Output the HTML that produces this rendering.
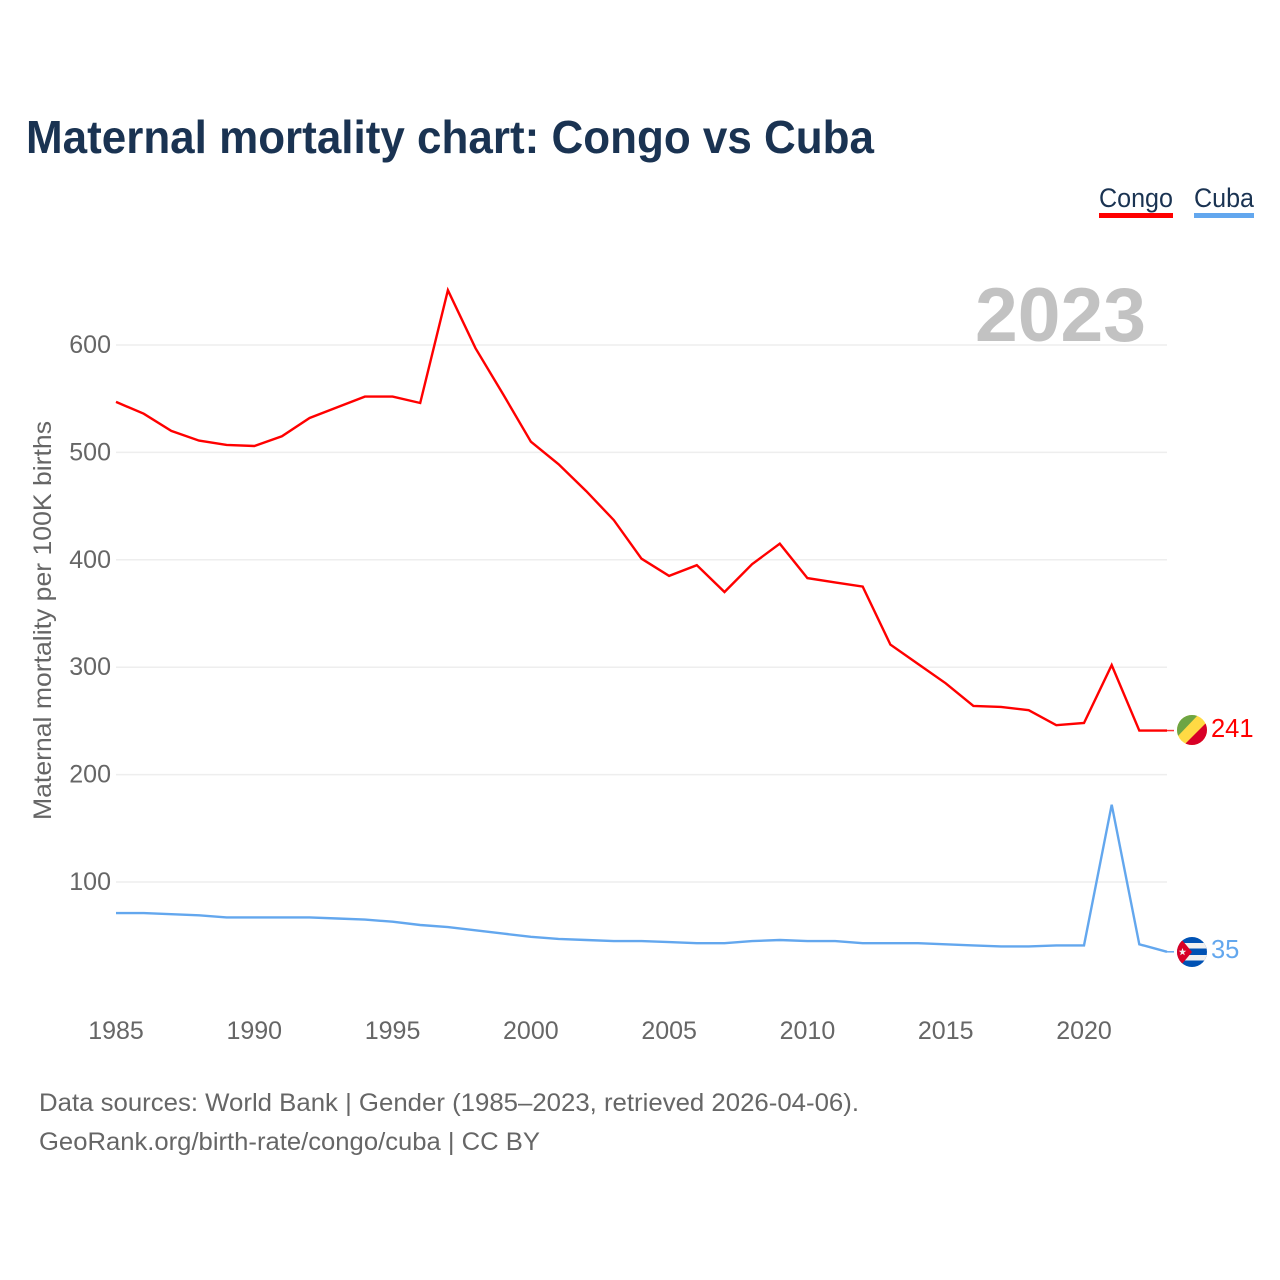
<!DOCTYPE html>
<html lang="en">
<head>
<meta charset="utf-8">
<title>Maternal mortality chart: Congo vs Cuba</title>
<style>
html,body{margin:0;padding:0;background:#fff;}
svg{display:block;}
text{font-family:"Liberation Sans",sans-serif;}
.tick{font-size:25px;fill:#666;}
</style>
</head>
<body>
<svg id="chart" xmlns="http://www.w3.org/2000/svg" width="1280" height="1280" viewBox="0 0 1280 1280">
  <defs>
    <clipPath id="flag-clip-congo"><circle cx="1192" cy="730" r="15"/></clipPath>
    <clipPath id="flag-clip-cuba"><circle cx="1192" cy="952" r="15"/></clipPath>
  </defs>
  <rect x="0" y="0" width="1280" height="1280" fill="#fff"/>
  <text x="26" y="153" font-size="46" font-weight="700" fill="#1a3352" textLength="848" lengthAdjust="spacingAndGlyphs">Maternal mortality chart: Congo vs Cuba</text>

  <g>
    <text x="1099" y="207" font-size="27" fill="#1a3352" textLength="74" lengthAdjust="spacingAndGlyphs">Congo</text>
    <rect x="1099" y="213" width="74" height="5" fill="#ff0000"/>
    <text x="1194" y="207" font-size="27" fill="#1a3352" textLength="60" lengthAdjust="spacingAndGlyphs">Cuba</text>
    <rect x="1194" y="213" width="60" height="5" fill="#63a7ee"/>
  </g>

  <g id="grid"></g>
  <g id="y-ticks"></g>
  <g id="x-ticks"></g>

  <text x="975" y="341" font-size="76" font-weight="700" fill="#c2c2c2" textLength="171" lengthAdjust="spacingAndGlyphs">2023</text>

  <text transform="translate(51,820) rotate(-90)" font-size="25" fill="#666" textLength="399" lengthAdjust="spacingAndGlyphs">Maternal mortality per 100K births</text>

  <polyline id="line-congo" fill="none" stroke="#ff0000" stroke-width="2.4" stroke-linejoin="miter"/>
  <polyline id="line-cuba" fill="none" stroke="#63a7ee" stroke-width="2.4" stroke-linejoin="miter"/>
  <line id="connector-congo" stroke="#ff0000" stroke-width="1.5" opacity="0.8"/>
  <line id="connector-cuba" stroke="#63a7ee" stroke-width="1.5"/>

  <g clip-path="url(#flag-clip-congo)">
    <rect x="1177" y="715" width="30" height="30" fill="#ffda44"/>
    <polygon points="1177,715 1198,715 1177,737" fill="#6da544"/>
    <polygon points="1207,745 1207,722 1184,745" fill="#d80027"/>
  </g>
  <g clip-path="url(#flag-clip-cuba)">
    <rect x="1177" y="937" width="30" height="30" fill="#0052b4"/>
    <rect x="1177" y="943" width="30" height="5.500" fill="#f0f0f0"/>
    <rect x="1177" y="955" width="30" height="5.500" fill="#f0f0f0"/>
    <polygon points="1177,934 1177,970 1192,952" fill="#d80027"/>
    <polygon points="1182.500,948 1183.500,950.700 1186.300,950.700 1184,952.500 1184.800,955.300 1182.500,953.700 1180.200,955.300 1181,952.500 1178.700,950.700 1181.500,950.700" fill="#f0f0f0"/>
  </g>

  <text id="value-congo" x="1211" y="737" font-size="25.500" fill="#ff0000"></text>
  <text id="value-cuba" x="1211" y="958" font-size="25.500" fill="#63a7ee"></text>

  <text x="39" y="1111" font-size="25" fill="#666" textLength="820" lengthAdjust="spacingAndGlyphs">Data sources: World Bank | Gender (1985–2023, retrieved 2026-04-06).</text>
  <text x="39" y="1150" font-size="25" fill="#666" textLength="501" lengthAdjust="spacingAndGlyphs">GeoRank.org/birth-rate/congo/cuba | CC BY</text>
</svg>
<script>
var years = [1985,1986,1987,1988,1989,1990,1991,1992,1993,1994,1995,1996,1997,1998,1999,2000,2001,2002,2003,2004,2005,2006,2007,2008,2009,2010,2011,2012,2013,2014,2015,2016,2017,2018,2019,2020,2021,2022,2023];
var congoValues = [547,536,520,511,507,506,515,532,542,552,552,546,651,597,554,510,489,464,437,401,385,395,370,396,415,383,379,375,321,303,285,264,263,260,246,248,302,241,241];
var cubaValues = [71,71,70,69,67,67,67,67,66,65,63,60,58,55,52,49,47,46,45,45,44,43,43,45,46,45,45,43,43,43,42,41,40,40,41,41,172,42,35];
var yTickValues = [100,200,300,400,500,600];
var xTickValues = [1985,1990,1995,2000,2005,2010,2015,2020];

var SVGNS = 'http://www.w3.org/2000/svg';
function xScale(year){ return 116 + (year - 1985) * (1084 - 116) / 35; }
function yScale(v){ return 989.4 - v * 1.074; }
function pointsFor(values){
  return values.map(function(v, i){ return xScale(years[i]).toFixed(1) + ',' + yScale(v).toFixed(1); }).join(' ');
}

var grid = document.getElementById('grid');
var yTicks = document.getElementById('y-ticks');
var xTicks = document.getElementById('x-ticks');

yTickValues.forEach(function(v){
  var line = document.createElementNS(SVGNS, 'line');
  
  
  line.setAttribute('x1', 116);
  line.setAttribute('x2', 1167);
  line.setAttribute('y1', yScale(v));
  line.setAttribute('y2', yScale(v));
  line.setAttribute('stroke', '#eeeeee');
  line.setAttribute('stroke-width', '1.5');
  grid.appendChild(line);

  var label = document.createElementNS(SVGNS, 'text');
  
  
  label.setAttribute('class', 'tick');
  label.setAttribute('x', 111);
  label.setAttribute('y', yScale(v) + 8);
  label.setAttribute('text-anchor', 'end');
  label.textContent = v;
  yTicks.appendChild(label);
});

xTickValues.forEach(function(year){
  var label = document.createElementNS(SVGNS, 'text');
  
  
  label.setAttribute('class', 'tick');
  label.setAttribute('x', xScale(year));
  label.setAttribute('y', 1039);
  label.setAttribute('text-anchor', 'middle');
  label.textContent = year;
  xTicks.appendChild(label);
});

document.getElementById('line-congo').setAttribute('points', pointsFor(congoValues));
document.getElementById('line-cuba').setAttribute('points', pointsFor(cubaValues));

function setConnector(id, values){
  var last = values[values.length - 1];
  var c = document.getElementById(id);
  c.setAttribute('x1', xScale(years[years.length - 1]));
  c.setAttribute('x2', 1174);
  c.setAttribute('y1', yScale(last));
  c.setAttribute('y2', yScale(last));
}
setConnector('connector-congo', congoValues);
setConnector('connector-cuba', cubaValues);

document.getElementById('value-congo').textContent = congoValues[congoValues.length - 1];
document.getElementById('value-cuba').textContent = cubaValues[cubaValues.length - 1];
</script>
</body>
</html>
